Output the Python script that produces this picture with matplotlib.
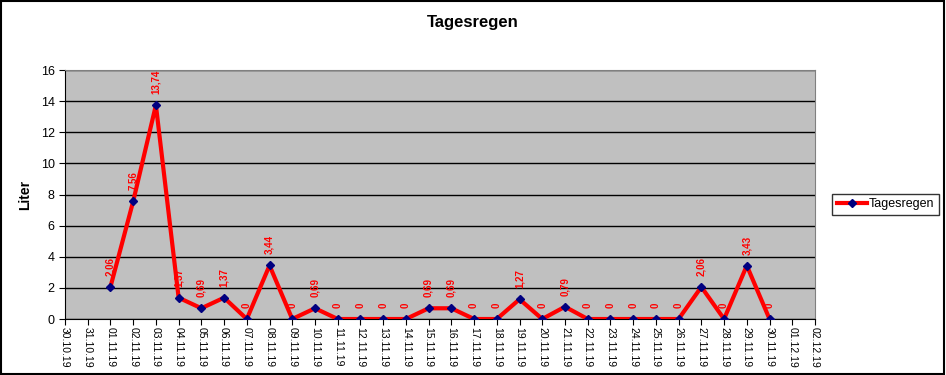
import matplotlib
matplotlib.use("Agg")
import matplotlib.pyplot as plt
import numpy as np

plt.rcParams["font.family"] = ["Liberation Sans", "DejaVu Sans"]

DATES = [
    "30.10.19", "31.10.19", "01.11.19", "02.11.19", "03.11.19", "04.11.19",
    "05.11.19", "06.11.19", "07.11.19", "08.11.19", "09.11.19", "10.11.19",
    "11.11.19", "12.11.19", "13.11.19", "14.11.19", "15.11.19", "16.11.19",
    "17.11.19", "18.11.19", "19.11.19", "20.11.19", "21.11.19", "22.11.19",
    "23.11.19", "24.11.19", "25.11.19", "26.11.19", "27.11.19", "28.11.19",
    "29.11.19", "30.11.19", "01.12.19", "02.12.19",
]
# None = no measurement
RAIN = [
    None, None, 2.06, 7.56, 13.74, 1.37,
    0.69, 1.37, 0, 3.44, 0, 0.69,
    0, 0, 0, 0, 0.69, 0.69,
    0, 0, 1.27, 0, 0.79, 0,
    0, 0, 0, 0, 2.06, 0,
    3.43, 0, None, None,
]

fig = plt.figure(figsize=(9.46, 3.75), dpi=100)
ax = fig.add_axes([0.0687, 0.1493, 0.7928, 0.664])
ax.set_facecolor("#c0c0c0")

x = np.arange(len(DATES))
xs = [i for i, v in zip(x, RAIN) if v is not None]
ys = [v for v in RAIN if v is not None]

ax.plot(xs, ys, "-", color="#ff0000", lw=3, zorder=3, label="Tagesregen",
        marker="D", markersize=4, markerfacecolor="#000080", markeredgecolor="#000080")

# data labels with German decimal comma
for xi, yi in zip(xs, ys):
    txt = "0" if yi == 0 else ("%.2f" % yi).replace(".", ",")
    ax.annotate(txt, (xi, yi), xytext=(0, 8), textcoords="offset points",
                rotation=90, ha="center", va="bottom", color="#ff0000",
                fontsize=7, fontweight="bold", zorder=4)

ax.set_xlim(0, len(DATES) - 1)
ax.set_ylim(0, 16)
ax.set_yticks(range(0, 17, 2))
ax.set_xticks(x)
ax.set_xticklabels(DATES, rotation=-90, fontsize=7.5)
ax.tick_params(axis="y", labelsize=9, length=4, direction="out")
ax.tick_params(axis="x", length=4, direction="out", pad=2)
ax.grid(True, axis="y", color="black", lw=1)
ax.set_axisbelow(True)
for s in ["top", "right"]:
    ax.spines[s].set_color("#808080")
ax.spines["left"].set_color("black")
ax.spines["bottom"].set_color("black")

ax.set_ylabel("Liter", fontsize=10, fontweight="bold", labelpad=6)
fig.text(0.5, 0.94, "Tagesregen", ha="center", va="center",
         fontsize=12, fontweight="bold")

leg = ax.legend(loc="center left", bbox_to_anchor=(1.023, 0.46), fontsize=9,
                frameon=True, fancybox=False, edgecolor="black",
                handlelength=2.4, borderpad=0.35, handletextpad=0.2,
                borderaxespad=0)
leg.get_frame().set_linewidth(1)

fig.patches.append(plt.Rectangle((0.001, 0.002), 0.997, 0.995, transform=fig.transFigure,
                                 fill=False, edgecolor="black", lw=1.5))

fig.savefig("out.png", dpi=100)
